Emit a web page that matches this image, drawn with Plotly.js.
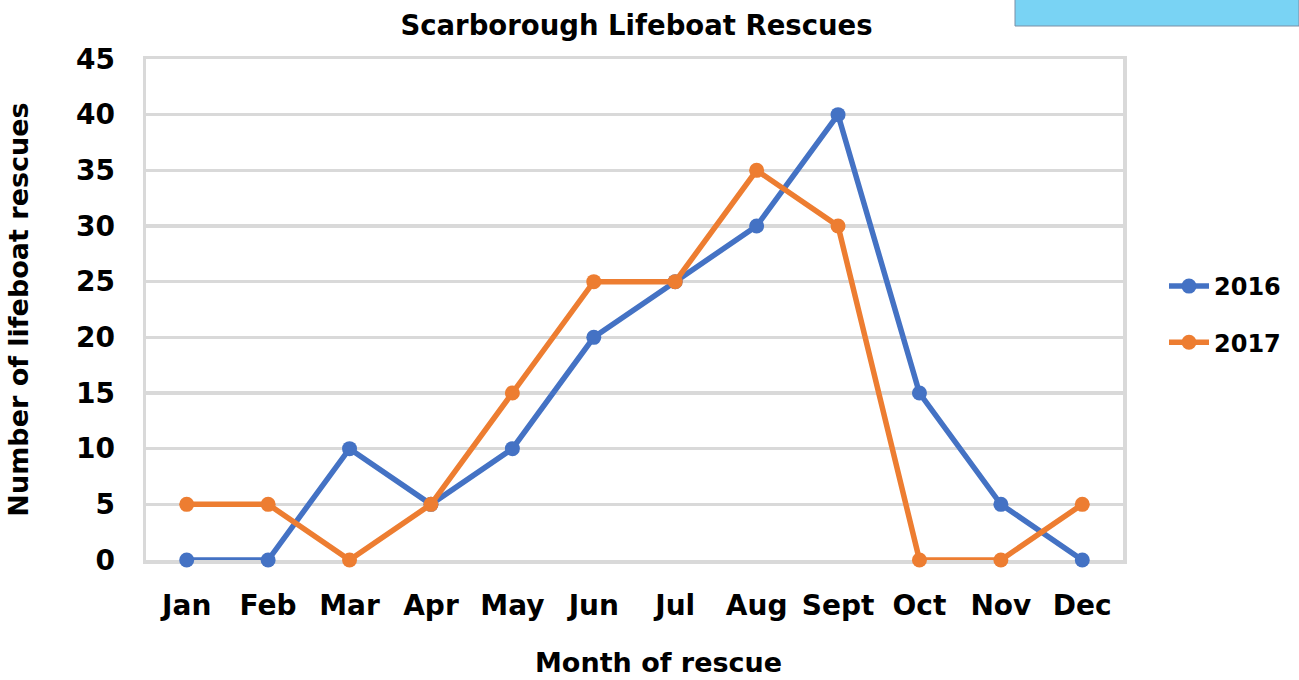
<!DOCTYPE html>
<html>
<head>
<meta charset="utf-8">
<script src="https://cdn.plot.ly/plotly-3.0.1.min.js"></script>
<style>
html,body{margin:0;padding:0;background:#fff;}
#chart{width:1299px;height:680px;}
</style>
</head>
<body>
<div id="chart"></div>
<script>
const months = ["Jan","Feb","Mar","Apr","May","Jun","Jul","Aug","Sept","Oct","Nov","Dec"];
const rescues2016 = [0,0,10,5,10,20,25,30,40,15,5,0];
const rescues2017 = [5,5,0,5,15,25,25,35,30,0,0,5];
const seriesNames = ["2016","2017"];
const yTicks = [0,5,10,15,20,25,30,35,40,45];

const FONT = "DejaVu Sans, sans-serif";
const idx = months.map((m,i)=>i);

const traces = [
  {x: idx, y: rescues2016, name: "<b>"+seriesNames[0]+"</b>", legendgroup: "a", type: "scatter", mode: "lines+markers",
   cliponaxis: false,
   line: {color: "#4472c4", width: 5.5}, marker: {color: "#4472c4", size: 15}},
  {x: idx, y: rescues2017, name: "<b>"+seriesNames[1]+"</b>", legendgroup: "b", type: "scatter", mode: "lines+markers",
   cliponaxis: false,
   line: {color: "#ed7d31", width: 5.5}, marker: {color: "#ed7d31", size: 15}}
];

const layout = {
  width: 1299, height: 680,
  margin: {l: 146, r: 176, t: 59, b: 120},
  paper_bgcolor: "#ffffff", plot_bgcolor: "#ffffff",
  font: {family: FONT, color: "#000", size: 28},
  title: {text: "<b>Scarborough Lifeboat Rescues</b>", x: 0.49, xanchor: "center", y: 0.962, yanchor: "middle",
          font: {family: FONT, size: 27.5, color: "#000"}},
  xaxis: {
    range: [-0.5, 11.5], tickmode: "array", tickvals: idx, ticktext: months.map(m=>"<b>"+m+"</b>"),
    showgrid: false, zeroline: false, showline: true, mirror: true, linecolor: "#d9d9d9", linewidth: 3.5,
    layer: "below traces",
    ticks: "", ticklabelstandoff: 18, tickfont: {family: FONT, size: 28, color: "#000"},
    fixedrange: true
  },
  yaxis: {
    range: [0, 45], tickmode: "array", tickvals: yTicks, ticktext: yTicks.map(v=>"<b>"+v+"</b>"),
    showgrid: true, gridcolor: "#d9d9d9", gridwidth: 3.5, zeroline: true, zerolinecolor: "#d9d9d9", zerolinewidth: 3.5,
    showline: true, mirror: true, linecolor: "#d9d9d9", linewidth: 3.5,
    layer: "below traces",
    ticks: "", ticklabelstandoff: 22, tickfont: {family: FONT, size: 28, color: "#000"},
    title: {text: "<b>Number of lifeboat rescues</b>", standoff: 40, font: {family: FONT, size: 27, color: "#000"}},
    fixedrange: true
  },
  annotations: [
    {text: "<b>Month of rescue</b>", xref: "paper", yref: "paper", x: (658-146)/977, y: -(663-560)/501,
     xanchor: "center", yanchor: "middle", showarrow: false, font: {family: FONT, size: 27, color: "#000"}}
  ],
  legend: {x: (1164-146)/977, xanchor: "left", y: 0.49, yanchor: "middle", font: {family: FONT, size: 24, color: "#000"},
           tracegroupgap: 22, itemwidth: 40, bgcolor: "rgba(0,0,0,0)"},
  showlegend: true,
  shapes: [
    {type: "rect", xref: "paper", yref: "paper", x0: (1015-146)/977, x1: (1299-146)/977,
     y0: (560-26)/501, y1: (560+0)/501 + 0.3, fillcolor: "#79d3f4", line: {color: "#7a8fa6", width: 1}, layer: "above"}
  ]
};

Plotly.newPlot("chart", traces, layout, {displayModeBar: false, staticPlot: true});
</script>
</body>
</html>
